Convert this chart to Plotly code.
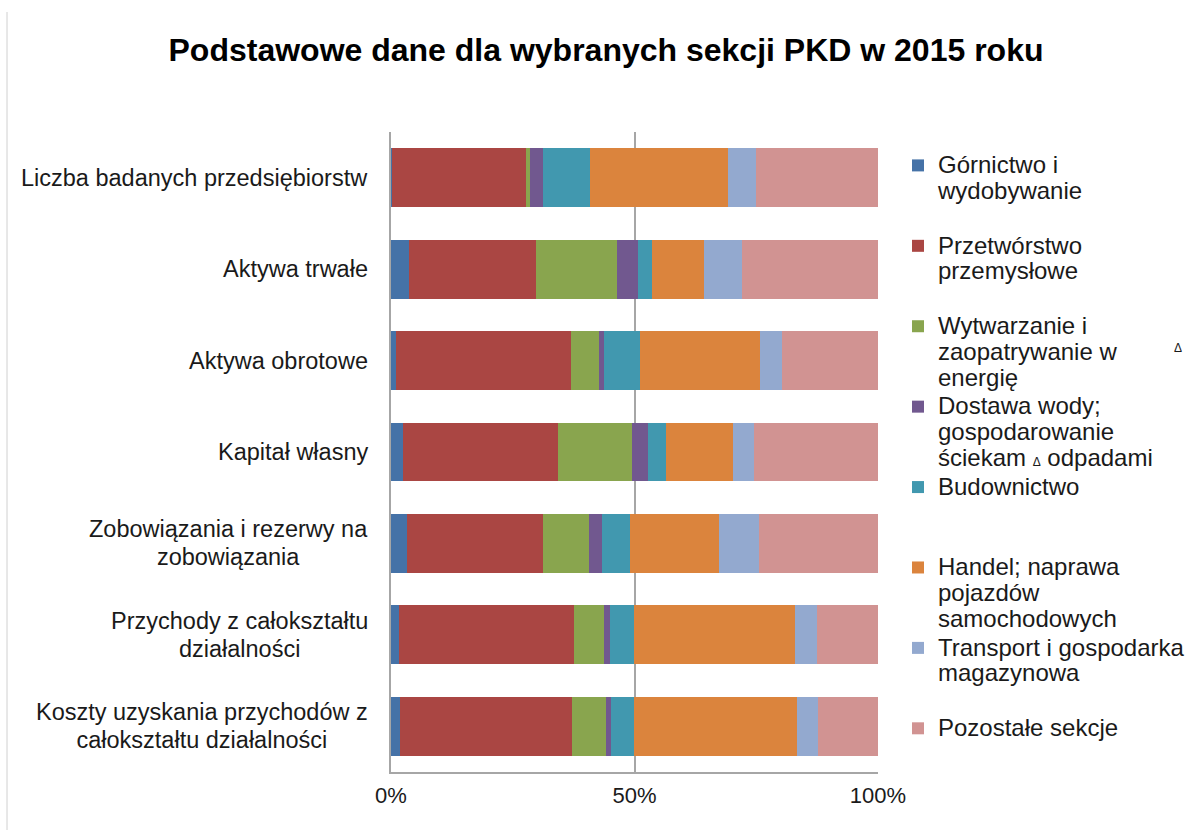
import plotly.graph_objects as go

categories = [
    "Liczba badanych przedsiębiorstw",
    "Aktywa trwałe",
    "Aktywa obrotowe",
    "Kapitał własny",
    "Zobowiązania i rezerwy na<br>zobowiązania",
    "Przychody z całokształtu<br>działalności",
    "Koszty uzyskania przychodów z<br>całokształtu działalności",
]

series_names = [
    "Górnictwo i<br>wydobywanie",
    "Przetwórstwo<br>przemysłowe",
    "Wytwarzanie i<br>zaopatrywanie w<br>energię",
    "Dostawa wody;<br>gospodarowanie<br>ściekam Δ odpadami",
    "Budownictwo",
    "Handel; naprawa<br>pojazdów<br>samochodowych",
    "Transport i gospodarka<br>magazynowa",
    "Pozostałe sekcje",
]

gornictwo    = [0.3, 3.8, 1.1, 2.4, 3.2, 1.6, 1.9]
przetworstwo = [27.4, 26.1, 35.8, 31.9, 28.0, 35.9, 35.4]
wytwarzanie  = [0.8, 16.6, 5.8, 15.3, 9.5, 6.2, 6.9]
dostawa      = [2.6, 4.2, 1.1, 3.2, 2.7, 1.2, 1.0]
budownictwo  = [9.8, 2.9, 7.3, 3.7, 5.8, 5.0, 4.8]
handel       = [28.2, 10.8, 24.6, 13.7, 18.2, 32.9, 33.5]
transport    = [5.8, 7.8, 4.5, 4.5, 8.2, 4.5, 4.2]
pozostale    = [25.0, 27.9, 19.8, 25.4, 24.5, 12.6, 12.4]

series_values = [gornictwo, przetworstwo, wytwarzanie, dostawa,
                 budownictwo, handel, transport, pozostale]
colors = ["#4572A7", "#AA4643", "#89A54E", "#71588F",
          "#4198AF", "#DB843D", "#93A9CF", "#D19392"]

tick_vals = [0, 50, 100]
tick_text = ["0%", "50%", "100%"]

FONT = "Liberation Sans, Arial, sans-serif"
W, H = 1197, 830
ML, MR, MT, MB = 391, 319, 132, 58
PW, PH = W - ML - MR, H - MT - MB


def px_x(px):
    return (px - ML) / PW


def px_y(py):
    return (H - MB - py) / PH


def styled(text, size, nlines=None):
    lines = text.split("<br>")
    out = []
    for ln in lines:
        ln = ln.replace("Δ", '<span style="font-size:12px">Δ</span>')
        out.append('<span style="font-size:%gpx">%s</span>' % (size, ln))
    if nlines:
        out += [" "] * (nlines - len(lines))
    return "<br>".join(out)


fig = go.Figure()
for name, vals, col in zip(series_names, series_values, colors):
    fig.add_trace(go.Bar(
        y=list(range(len(categories))), x=vals,
        name=styled(name, 24, nlines=3), orientation="h",
        marker=dict(color=col, line=dict(width=0)),
    ))

for i, c in enumerate(categories):
    fig.add_annotation(
        x=px_x(370), xref="paper", y=i, yref="y", text=styled(c, 23.5),
        showarrow=False, xanchor="right", yanchor="middle", align="center",
        font=dict(family=FONT, size=21.5, color="#1a1a1a"),
    )

fig.add_annotation(
    x=px_x(1178), xref="paper", y=px_y(348), yref="paper",
    text="Δ", showarrow=False, xanchor="center", yanchor="middle",
    font=dict(family=FONT, size=12, color="#1a1a1a"),
)

fig.add_shape(type="line", xref="paper", yref="paper",
              x0=px_x(7), x1=px_x(7), y0=px_y(12), y1=px_y(830),
              line=dict(color="#d0d0d0", width=1))

fig.update_layout(
    width=W, height=H,
    margin=dict(l=ML, r=MR, t=MT, b=MB, autoexpand=False),
    paper_bgcolor="white", plot_bgcolor="white",
    barmode="stack", barnorm="percent", bargap=0.355,
    title=dict(
        text="<b>Podstawowe dane dla wybranych sekcji PKD w 2015 roku</b>",
        x=606 / W, xanchor="center", xref="container",
        y=1 - 50 / H, yanchor="middle", yref="container",
        font=dict(family=FONT, size=32, color="#000000"),
    ),
    xaxis=dict(
        range=[0, 100], tickvals=tick_vals, ticktext=tick_text,
        showgrid=True, gridcolor="#a6a6a6", gridwidth=1.5,
        showline=True, linecolor="#a6a6a6", linewidth=1.5,
        zeroline=False, ticks="", ticklabelstandoff=3,
        tickfont=dict(family=FONT, size=22, color="#1a1a1a"),
    ),
    yaxis=dict(
        range=[len(categories) - 0.5, -0.5], showticklabels=False,
        showgrid=False, zeroline=False,
        showline=True, linecolor="#a6a6a6", linewidth=1.5,
    ),
    legend=dict(
        x=898 / W, xref="container", xanchor="left",
        y=1 - 146 / H, yref="container", yanchor="top",
        traceorder="normal", valign="top", tracegroupgap=0,
        font=dict(family=FONT, size=19.85, color="#1a1a1a"),
        bgcolor="rgba(0,0,0,0)", maxheight=800,
    ),
    showlegend=True,
)

fig.write_html("out.html", config={"displayModeBar": False},
               post_script="document.body.style.margin='0';")
